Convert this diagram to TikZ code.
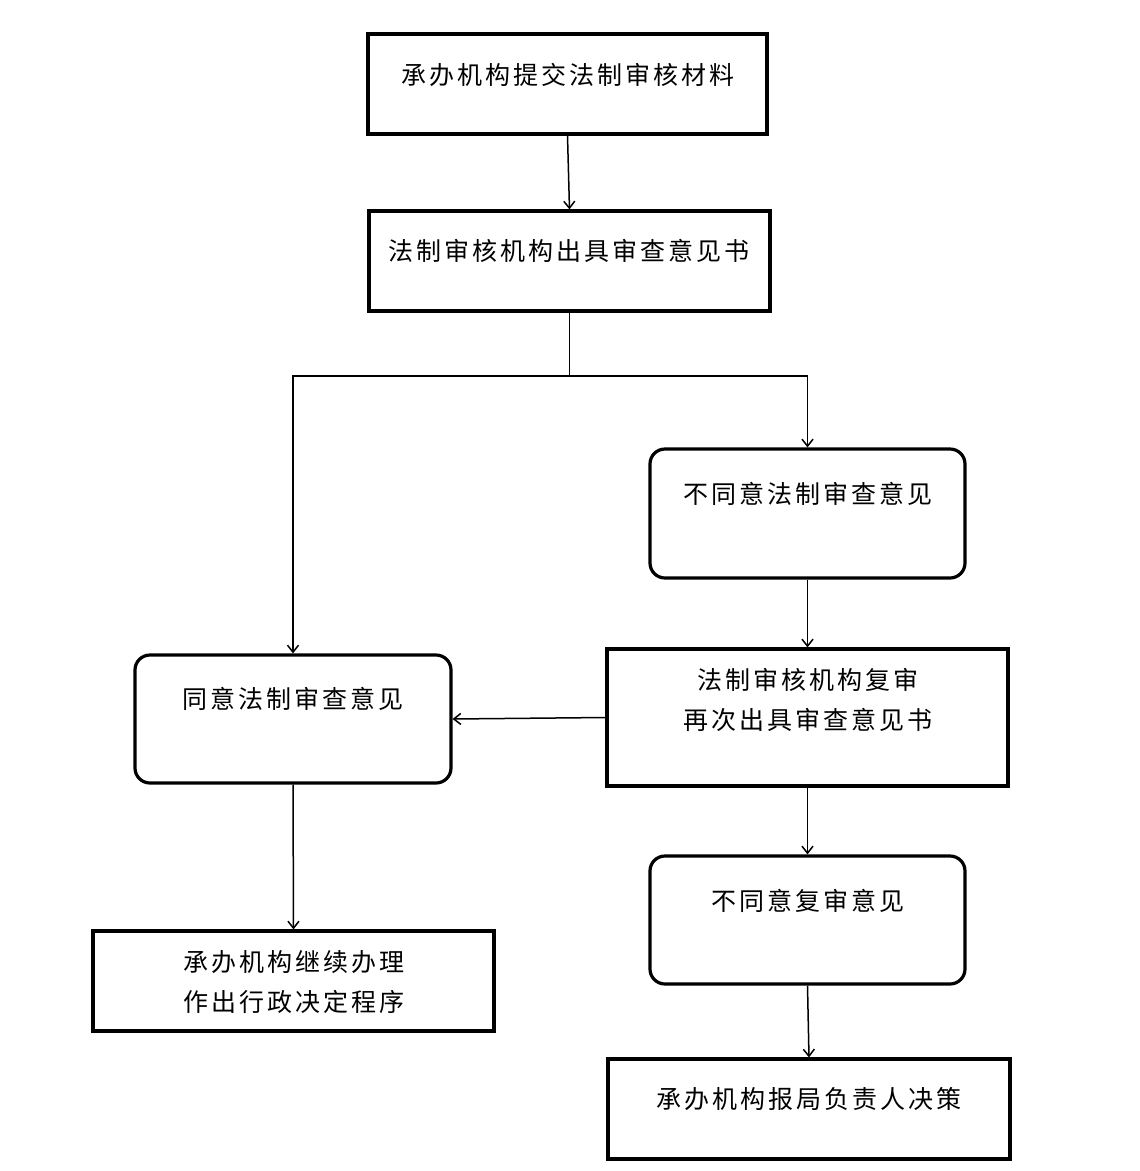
\documentclass[tikz,border=0pt]{standalone}
\usepackage{fontspec}
\newfontfamily\cjk[LetterSpace=12]{Noto Sans CJK SC}
\usetikzlibrary{arrows.meta}
\tikzset{
  box/.style={draw, line width=3.2pt, inner sep=0pt, rectangle},
  rbox/.style={box, rounded corners=15pt},
  txt/.style={inner sep=0pt, align=center, font=\cjk\fontsize{25}{40}\selectfont},
  conn/.style={line width=1.5pt, -{Straight Barb[length=7pt,width=11pt,line width=1.5pt]}},
  plain/.style={line width=1.5pt}
}
\begin{document}
\begin{tikzpicture}[x=1pt,y=-1pt]
\useasboundingbox (0,0) rectangle (1140,1171);
\fill[white] (0,0) rectangle (1140,1171);
% boxes
\node[box, minimum width=399pt, minimum height=100pt] (b1) at (567.5,84) {};
\node[box, minimum width=401pt, minimum height=100pt] (b2) at (569.5,261) {};
\node[rbox, minimum width=315pt, minimum height=129pt] (b3) at (807.5,513.5) {};
\node[rbox, minimum width=316pt, minimum height=128pt] (b4) at (293,719) {};
\node[box, minimum width=401pt, minimum height=137pt] (b5) at (807.5,717.5) {};
\node[rbox, minimum width=315pt, minimum height=128pt] (b6) at (807.5,920) {};
\node[box, minimum width=401pt, minimum height=100pt] (b7) at (293.5,981) {};
\node[box, minimum width=402pt, minimum height=100pt] (b8) at (809,1109) {};
% texts
\node[txt] (t1) at (568,75) {承办机构提交法制审核材料};
\node[txt] (t2) at (569,251) {法制审核机构出具审查意见书};
\node[txt] (t3) at (808,494) {不同意法制审查意见};
\node[txt] (t4) at (293,699) {同意法制审查意见};
\node[txt] (t5) at (808,700) {法制审核机构复审\\再次出具审查意见书};
\node[txt] (t6) at (808,901) {不同意复审意见};
\node[txt] (t7) at (294,982) {承办机构继续办理\\作出行政决定程序};
\node[txt] (t8) at (809,1099) {承办机构报局负责人决策};
% connectors
\coordinate (j) at (569.5,376);
\draw[conn] (b1.south) -- (b2.north);
\draw[plain] (b2.south) -- (j);
\draw[conn] (j) -| (b4.north);
\draw[conn] (j) -| (b3.north);
\draw[conn] (b3.south) -- (b5.north);
\draw[conn] (b5.west) -- (b4.east);
\draw[conn] (b4.south) -- (b7.north);
\draw[conn] (b5.south) -- (b6.north);
\draw[conn] (b6.south) -- (b8.north);
\end{tikzpicture}
\end{document}
